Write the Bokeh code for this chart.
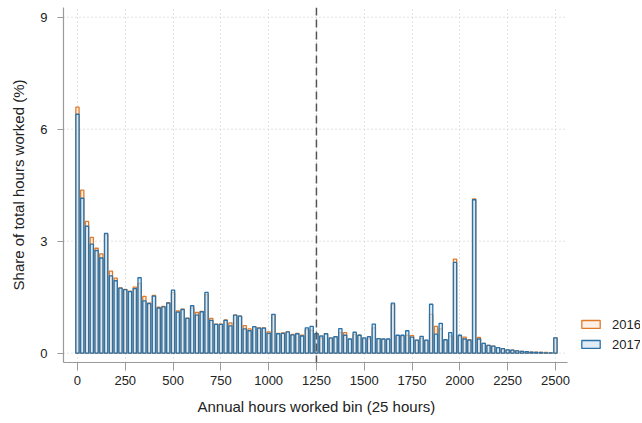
from bokeh.plotting import figure
from bokeh.models import Range1d, FixedTicker, Span, Legend, LegendItem, ColumnDataSource, Title
from bokeh.embed import file_html
from bokeh.resources import INLINE

bins = list(range(0, 2501, 25))
share_2016 = [6.59, 4.37, 3.53, 3.10, 2.81, 2.66, 3.17, 2.20, 2.01, 1.75,
              1.71, 1.66, 1.77, 1.87, 1.52, 1.34, 1.55, 1.23, 1.25, 1.35,
              1.62, 1.13, 1.18, 0.94, 1.21, 1.09, 1.12, 1.57, 0.93, 0.78,
              0.78, 0.89, 0.81, 1.02, 0.99, 0.74, 0.65, 0.70, 0.68, 0.68,
              0.57, 1.03, 0.53, 0.54, 0.57, 0.50, 0.53, 0.48, 0.63, 0.61,
              0.52, 0.41, 0.52, 0.39, 0.44, 0.55, 0.55, 0.37, 0.50, 0.48,
              0.38, 0.38, 0.68, 0.39, 0.37, 0.37, 1.30, 0.47, 0.46, 0.48,
              0.47, 0.34, 0.40, 0.34, 1.04, 0.72, 0.65, 0.36, 0.46, 2.52,
              0.45, 0.43, 0.36, 4.13, 0.42, 0.26, 0.21, 0.19, 0.15, 0.12,
              0.09, 0.08, 0.06, 0.05, 0.04, 0.03, 0.03, 0.02, 0.02, 0.01,
              0.41]
share_2017 = [6.40, 4.15, 3.40, 2.92, 2.75, 2.55, 3.21, 2.07, 1.94, 1.74,
              1.70, 1.65, 1.73, 2.02, 1.40, 1.33, 1.53, 1.21, 1.24, 1.34,
              1.69, 1.10, 1.17, 0.93, 1.27, 1.02, 1.11, 1.63, 0.88, 0.77,
              0.77, 0.88, 0.73, 1.02, 0.99, 0.65, 0.60, 0.71, 0.67, 0.67,
              0.53, 1.04, 0.52, 0.53, 0.57, 0.49, 0.52, 0.46, 0.68, 0.72,
              0.52, 0.46, 0.52, 0.41, 0.44, 0.66, 0.48, 0.38, 0.56, 0.48,
              0.41, 0.44, 0.78, 0.39, 0.38, 0.38, 1.34, 0.48, 0.48, 0.60,
              0.43, 0.35, 0.45, 0.35, 1.31, 0.51, 0.80, 0.36, 0.55, 2.43,
              0.48, 0.38, 0.35, 4.11, 0.38, 0.26, 0.21, 0.19, 0.15, 0.12,
              0.09, 0.08, 0.06, 0.05, 0.04, 0.03, 0.02, 0.02, 0.01, 0.01,
              0.41]
series_labels = ["2016", "2017"]
x_ticks = list(range(0, 2501, 250))
y_ticks = [0, 3, 6, 9]
cutoff = 1250

FONT = "Liberation Sans"
TXT = "#222222"
X_LO, X_HI = -73, 2563   # visible plot region (axis extent)

src = ColumnDataSource(dict(x=bins, y16=share_2016, y17=share_2017))

p = figure(width=642, height=423, output_backend="svg", toolbar_location=None,
           x_range=Range1d(X_LO, 2945), y_range=Range1d(-0.25, 9.26),
           min_border_left=63, min_border_right=2, min_border_top=7,
           min_border_bottom=61)
p.outline_line_color = None
p.background_fill_color = "white"

# horizontal dotted grid lines, limited to the plot region
p.segment(x0=[X_LO] * len(y_ticks), x1=[X_HI] * len(y_ticks), y0=y_ticks, y1=y_ticks,
          line_color="#c4c4c4", line_dash="1 3", line_width=1)

r16 = p.vbar(x="x", top="y16", bottom=0, width=17, source=src,
             fill_color="#fbe6d6", fill_alpha=0.6,
             line_color="#e07b2c", line_width=1.3)
r17 = p.vbar(x="x", top="y17", bottom=0, width=17, source=src,
             fill_color="#cfe4f2", fill_alpha=0.65,
             line_color="#2a72a8", line_width=1.3)

p.add_layout(Span(location=cutoff, dimension="height", line_color="#555555",
                  line_dash="8 4", line_width=1.5))

for ax in (p.xaxis[0], p.yaxis[0]):
    ax.axis_line_color = "#9a9a9a"
    ax.axis_line_width = 1.2
    ax.major_tick_line_color = "#9a9a9a"
    ax.major_tick_in = 0
    ax.minor_tick_line_color = None
    ax.major_label_text_font = FONT
    ax.major_label_text_font_size = "13px"
    ax.major_label_text_color = TXT
    ax.axis_label_text_font = FONT
    ax.axis_label_text_font_size = "15px"
    ax.axis_label_text_font_style = "normal"
    ax.axis_label_text_color = TXT

p.xaxis.bounds = (X_LO, X_HI)
p.xaxis.ticker = FixedTicker(ticks=x_ticks)
p.yaxis.ticker = FixedTicker(ticks=y_ticks)
p.xaxis.major_tick_out = 8
p.yaxis.major_tick_out = 6
p.xaxis.major_label_standoff = 5
p.yaxis.major_label_standoff = 10
p.yaxis.axis_label = "Share of total hours worked (%)"
p.yaxis.axis_label_standoff = 10

xtitle = Title(text="Annual hours worked bin (25 hours)", align="left", offset=134,
               text_font=FONT, text_font_size="15px", text_font_style="normal",
               text_color=TXT, standoff=17)
p.add_layout(xtitle, "below")

p.xgrid.ticker = FixedTicker(ticks=x_ticks)
p.xgrid.grid_line_color = "#c4c4c4"
p.xgrid.grid_line_dash = "1 3"
p.xgrid.grid_line_width = 1
p.ygrid.visible = False

legend = Legend(items=[LegendItem(label=series_labels[0], renderers=[r16]),
                       LegendItem(label=series_labels[1], renderers=[r17])],
                location=(516, 8), padding=0, margin=0, spacing=0,
                glyph_width=23, glyph_height=10, label_standoff=10,
                label_height=20, border_line_alpha=0, background_fill_alpha=0,
                label_text_font=FONT, label_text_font_size="13px",
                label_text_color=TXT)
p.add_layout(legend)

open("out.html", "w").write(file_html(p, INLINE))
